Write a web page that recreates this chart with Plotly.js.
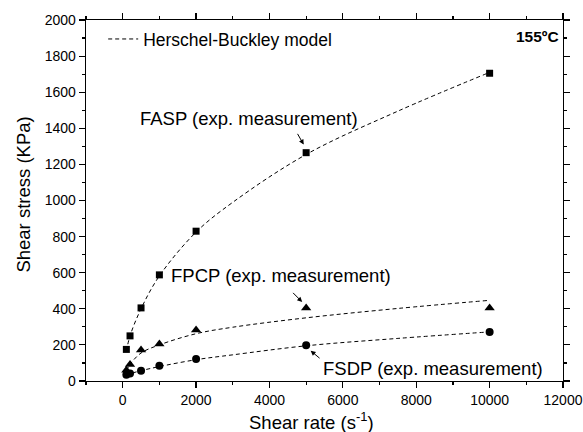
<!DOCTYPE html>
<html>
<head>
<meta charset="utf-8">
<script src="https://cdn.plot.ly/plotly-3.0.1.min.js"></script>
<style>html,body{margin:0;padding:0;background:#fff;}#chart{width:583px;height:432px;}</style>
</head>
<body>
<div id="chart"></div>
<script>
// Measured data (shear rate in 1/s, shear stress in KPa)
const shearRate = [100, 200, 500, 1000, 2000, 5000, 10000];
const faspStress = [175, 250, 405, 588, 830, 1265, 1705];
const fpcpStress = [60, 92, 172, 205, 283, 405, 405];
const fsdpStress = [35, 42, 57, 84, 122, 198, 272];

// Herschel-Buckley model curves
const modelRate = [100, 200, 500, 1000, 2000, 3000, 5000, 7500, 10000];
const faspModel = [165, 250, 400, 582, 825, 990, 1255, 1495, 1710];
const fpcpModel = [55, 92, 155, 200, 262, 298, 350, 402, 447];
const fsdpModel = [30, 40, 57, 80, 118, 145, 195, 236, 272];

const xTicks = [0, 2000, 4000, 6000, 8000, 10000, 12000];
const yTicks = [0, 200, 400, 600, 800, 1000, 1200, 1400, 1600, 1800, 2000];

const FONT = 'Arial, "Liberation Sans", sans-serif';
const dashStyle = '4px,3px';
const BIG = 18.5;

function modelTrace(y, show) {
  return {x: modelRate, y: y, mode: 'lines', type: 'scatter',
    line: {color: '#000', width: 1, dash: dashStyle, shape: 'spline'},
    name: 'Herschel-Buckley model', showlegend: show, hoverinfo: 'skip'};
}
function dataTrace(y, sym, size, name) {
  return {x: shearRate, y: y, mode: 'markers', type: 'scatter',
    marker: {symbol: sym, size: size, color: '#000'}, name: name, showlegend: false};
}

const data = [
  modelTrace(faspModel, true),
  modelTrace(fpcpModel, false),
  modelTrace(fsdpModel, false),
  dataTrace(faspStress, 'square', 7, 'FASP'),
  dataTrace(fpcpStress, 'triangle-up', 9, 'FPCP'),
  dataTrace(fsdpStress, 'circle', 8, 'FSDP')
];

const axisCommon = {
  showgrid: false, zeroline: false, showline: true, linecolor: '#000', linewidth: 1.3,
  mirror: 'allticks', ticks: 'outside', ticklen: 6, tickwidth: 1.2, tickcolor: '#000',
  tickfont: {family: FONT, size: 14, color: '#000'}
};

const layout = {
  width: 583, height: 432,
  margin: {l: 85.5, r: 20.3, t: 20, b: 51.3},
  paper_bgcolor: '#fff', plot_bgcolor: '#fff',
  font: {family: FONT, color: '#000'},
  showlegend: true,
  legend: {x: 0.036, y: 0.997, xanchor: 'left', yanchor: 'top', bgcolor: 'rgba(0,0,0,0)',
    font: {family: FONT, size: 17.5, color: '#000'}},
  xaxis: Object.assign({}, axisCommon, {
    range: [-1000, 12000], tickvals: xTicks, ticktext: xTicks.map(String),
    minor: {dtick: 1000, tick0: 0, ticks: 'outside', ticklen: 3, tickwidth: 1.2, tickcolor: '#000'}
  }),
  yaxis: Object.assign({}, axisCommon, {
    range: [0, 2000], tickvals: yTicks, ticktext: yTicks.map(String),
    minor: {dtick: 100, tick0: 0, ticks: 'outside', ticklen: 3, tickwidth: 1.2, tickcolor: '#000'}
  }),
  annotations: [
    {xref: 'paper', yref: 'paper', x: 0.4726, y: -0.111, xanchor: 'center', yanchor: 'middle',
      text: 'Shear rate (s<sup>-1</sup>)', showarrow: false, font: {family: FONT, size: BIG, color: '#000'}},
    {xref: 'paper', yref: 'paper', x: -0.131, y: 0.515, xanchor: 'center', yanchor: 'middle', textangle: -90,
      text: 'Shear stress (KPa)', showarrow: false, font: {family: FONT, size: BIG, color: '#000'}},
    {xref: 'paper', yref: 'paper', x: 0.995, y: 0.955, xanchor: 'right', yanchor: 'middle',
      text: '<b>155ºC</b>', showarrow: false, font: {family: FONT, size: 15.5, color: '#000'}},
    {xref: 'x', yref: 'y', x: 420, y: 1455, xanchor: 'left', yanchor: 'middle',
      text: 'FASP (exp. measurement)', showarrow: false, font: {family: FONT, size: BIG, color: '#000'}},
    {xref: 'x', yref: 'y', x: 1250, y: 585, xanchor: 'left', yanchor: 'middle',
      text: 'FPCP (exp. measurement)', showarrow: false, font: {family: FONT, size: BIG, color: '#000'}},
    {xref: 'x', yref: 'y', x: 5410, y: 70, xanchor: 'left', yanchor: 'middle',
      text: 'FSDP (exp. measurement)', showarrow: false, font: {family: FONT, size: BIG, color: '#000'}},
    {xref: 'x', yref: 'y', x: 4960, y: 1300, text: '', showarrow: true, arrowhead: 2, arrowsize: 1,
      arrowwidth: 1, arrowcolor: '#000', ax: -8, ay: -14, standoff: 2},
    {xref: 'x', yref: 'y', x: 4930, y: 430, text: '', showarrow: true, arrowhead: 2, arrowsize: 1,
      arrowwidth: 1, arrowcolor: '#000', ax: -12, ay: -12, standoff: 2},
    {xref: 'x', yref: 'y', x: 5080, y: 175, text: '', showarrow: true, arrowhead: 2, arrowsize: 1,
      arrowwidth: 1, arrowcolor: '#000', ax: 12, ay: 10, standoff: 2}
  ]
};

Plotly.newPlot('chart', data, layout, {displayModeBar: false, staticPlot: true});
</script>
</body>
</html>
